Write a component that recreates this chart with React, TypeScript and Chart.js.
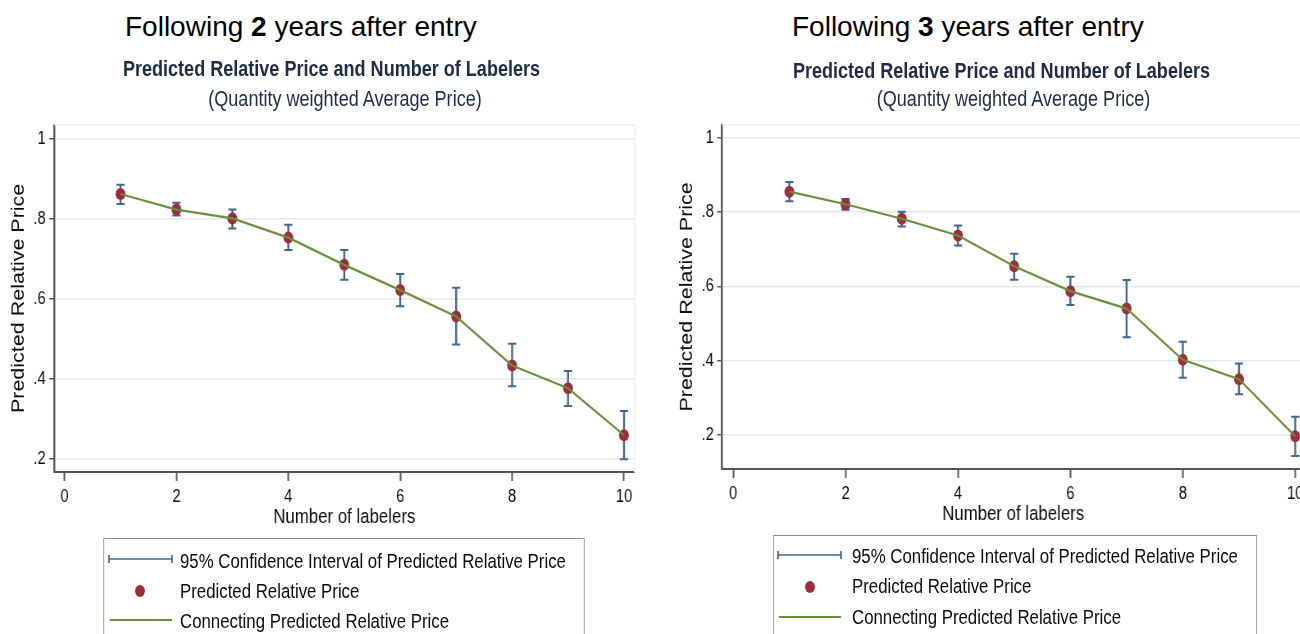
import React, { useEffect, useRef } from "react";
import { Chart, registerables } from "chart.js";

Chart.register(...registerables);

// ---------- data ----------
const labelers = [1, 2, 3, 4, 5, 6, 7, 8, 9, 10];
const xTicks = [0, 2, 4, 6, 8, 10];
const yTicks = [0.2, 0.4, 0.6, 0.8, 1];
const yTickLabels = [".2", ".4", ".6", ".8", "1"];

const pred2 = [0.862, 0.823, 0.801, 0.753, 0.685, 0.622, 0.556, 0.434, 0.377, 0.26];
const lo2 = [0.837, 0.808, 0.776, 0.722, 0.648, 0.582, 0.486, 0.382, 0.333, 0.2];
const hi2 = [0.885, 0.84, 0.823, 0.785, 0.722, 0.662, 0.628, 0.488, 0.42, 0.32];

const pred3 = [0.855, 0.821, 0.782, 0.737, 0.654, 0.587, 0.54, 0.402, 0.35, 0.196];
const lo3 = [0.829, 0.806, 0.761, 0.71, 0.618, 0.55, 0.463, 0.354, 0.309, 0.143];
const hi3 = [0.881, 0.835, 0.801, 0.764, 0.688, 0.626, 0.617, 0.451, 0.392, 0.249];

const legendLabels = [
  "95% Confidence Interval of Predicted Relative Price",
  "Predicted Relative Price",
  "Connecting Predicted Relative Price",
];
const chartTitle = "Predicted Relative Price and Number of Labelers";
const chartSubtitle = "(Quantity weighted Average Price)";
const xTitle = "Number of labelers";
const yTitle = "Predicted Relative Price";

// ---------- styles ----------
const C = {
  ci: "#42658e",
  dot: "#9b2c3b",
  line: "#6b8e3d",
  axis: "#555555",
  grid: "#e2eaee",
  title: "#1f2a45",
  text: "#0a0a0a",
};
const SANS = '"Liberation Sans", Arial, sans-serif';
// the graph part of the reference is squeezed horizontally
const F = 0.82;
const ix = (px: number) => px / F; // page x -> inner (unsqueezed) x

type Cfg = {
  pred: number[];
  lo: number[];
  hi: number[];
  xMin: number;
  xMax: number;
  yMin: number;
  yMax: number;
  width: number;
  height: number;
  yAxisWidth: number;
  xAxisHeight: number;
  padTop: number;
  padRight: number;
  yTitlePad: number;
  xTitlePad: number;
};

function buildChart(canvas: HTMLCanvasElement, cfg: Cfg) {
  const errorBars = {
    id: "errorBars",
    beforeDatasetsDraw(chart: any) {
      const { ctx, scales, chartArea } = chart;
      const x = scales.x;
      const y = scales.y;
      ctx.save();
      // faint plot-region outline (top & right)
      ctx.strokeStyle = "#e9eff1";
      ctx.lineWidth = 1.5;
      ctx.beginPath();
      ctx.moveTo(chartArea.left, chartArea.top);
      ctx.lineTo(chartArea.right, chartArea.top);
      ctx.lineTo(chartArea.right, chartArea.bottom);
      ctx.stroke();
      ctx.strokeStyle = C.ci;
      labelers.forEach((xv, i) => {
        const px = x.getPixelForValue(xv);
        const pl = y.getPixelForValue(cfg.lo[i]);
        const ph = y.getPixelForValue(cfg.hi[i]);
        ctx.lineWidth = 2.4;
        ctx.beginPath();
        ctx.moveTo(px, pl);
        ctx.lineTo(px, ph);
        ctx.stroke();
        ctx.lineWidth = 2;
        ctx.beginPath();
        ctx.moveTo(px - 5, pl);
        ctx.lineTo(px + 5, pl);
        ctx.moveTo(px - 5, ph);
        ctx.lineTo(px + 5, ph);
        ctx.stroke();
      });
      ctx.restore();
    },
  };

  const pts = labelers.map((x, i) => ({ x, y: cfg.pred[i] }));

  return new Chart(canvas, {
    type: "scatter",
    data: {
      datasets: [
        {
          label: legendLabels[2],
          data: pts,
          showLine: true,
          borderColor: C.line,
          borderWidth: 2.2,
          pointRadius: 0,
          order: 0,
        } as any,
        {
          label: legendLabels[1],
          data: pts,
          showLine: false,
          pointStyle: "circle",
          pointRadius: 6,
          borderWidth: 0,
          backgroundColor: C.dot,
          borderColor: C.dot,
          order: 1,
        } as any,
      ],
    },
    options: {
      responsive: false,
      animation: false,
      devicePixelRatio: 1,
      layout: { padding: { top: cfg.padTop, right: cfg.padRight, left: 0, bottom: 0 } },
      plugins: {
        legend: { display: false },
        tooltip: { enabled: false },
        title: { display: false },
      },
      scales: {
        x: {
          type: "linear",
          min: cfg.xMin,
          max: cfg.xMax,
          afterBuildTicks: (s: any) => {
            s.ticks = xTicks.map((v) => ({ value: v }));
          },
          afterFit: (s: any) => {
            s.height = cfg.xAxisHeight;
          },
          grid: {
            drawOnChartArea: false,
            drawTicks: true,
            tickLength: 9,
            tickColor: C.axis,
            tickWidth: 2,
          },
          border: { display: true, color: C.axis, width: 2 },
          ticks: {
            color: C.text,
            font: { family: SANS, size: 18 },
            padding: 5,
            maxRotation: 0,
            autoSkip: false,
            callback: (v: any) => String(v),
          },
          title: {
            display: true,
            text: xTitle,
            color: C.text,
            font: { family: SANS, size: 20.5 },
            padding: { top: 0, bottom: cfg.xTitlePad },
          },
        },
        y: {
          type: "linear",
          min: cfg.yMin,
          max: cfg.yMax,
          afterBuildTicks: (s: any) => {
            s.ticks = yTicks.map((v) => ({ value: v }));
          },
          afterFit: (s: any) => {
            s.width = cfg.yAxisWidth;
          },
          grid: {
            color: C.grid,
            lineWidth: 1.5,
            drawTicks: true,
            tickLength: 6,
            tickColor: C.axis,
            tickWidth: 1.5,
          },
          border: { display: true, color: C.axis, width: 2.4 },
          ticks: {
            color: C.text,
            font: { family: SANS, size: 18 },
            padding: 4,
            autoSkip: false,
            callback: (v: any) => {
              const i = yTicks.findIndex((t) => Math.abs(t - Number(v)) < 1e-6);
              return i >= 0 ? yTickLabels[i] : "";
            },
          },
          title: {
            display: true,
            text: yTitle,
            color: C.text,
            font: { family: SANS, size: 21.5 },
            padding: { top: cfg.yTitlePad, bottom: 0 },
          },
        },
      },
    },
    plugins: [errorBars as any],
  });
}

function ChartCanvas({ cfg, left, top }: { cfg: Cfg; left: number; top: number }) {
  const ref = useRef<HTMLCanvasElement | null>(null);
  useEffect(() => {
    if (!ref.current) return;
    const ch = buildChart(ref.current, cfg);
    return () => ch.destroy();
  }, []);
  return (
    <canvas
      ref={ref}
      width={cfg.width}
      height={cfg.height}
      style={{ position: "absolute", left, top, width: cfg.width, height: cfg.height }}
    />
  );
}

// all x-sizes below are in the inner (unsqueezed) space
const leftCfg: Cfg = {
  pred: pred2,
  lo: lo2,
  hi: hi2,
  xMin: -0.188,
  xMax: 10.19,
  yMin: 0.168,
  yMax: 1.0346,
  width: Math.round(ix(660)),
  height: 425,
  yAxisWidth: ix(54),
  xAxisHeight: 63,
  padTop: 11,
  padRight: ix(660) - ix(634.5),
  yTitlePad: 10.5,
  xTitlePad: 5.7,
};

const rightCfg: Cfg = {
  pred: pred3,
  lo: lo3,
  hi: hi3,
  xMin: -0.196,
  xMax: 10.16,
  yMin: 0.108,
  yMax: 1.035,
  width: Math.round(ix(660)),
  height: 425,
  yAxisWidth: ix(62),
  xAxisHeight: 66,
  padTop: 11,
  padRight: ix(660) - ix(644),
  yTitlePad: 20.5,
  xTitlePad: 8.7,
};

function Txt({
  children,
  left,
  top,
  size,
  weight,
  color,
  center,
}: {
  children: React.ReactNode;
  left: number;
  top: number;
  size: number;
  weight?: number;
  color?: string;
  center?: boolean;
}) {
  const style: React.CSSProperties = {
    position: "absolute",
    top,
    fontFamily: SANS,
    fontSize: size,
    lineHeight: `${size}px`,
    fontWeight: weight || 400,
    color: color || C.text,
    whiteSpace: "nowrap",
  };
  if (center) {
    style.left = left - 400;
    style.width = 800;
    style.textAlign = "center";
  } else {
    style.left = left;
  }
  return <div style={style}>{children}</div>;
}

function LegendSymbols({ x0, x1, xd, y1, y2, y3 }: { x0: number; x1: number; xd: number; y1: number; y2: number; y3: number }) {
  return (
    <g>
      <line x1={x0} y1={y1} x2={x1} y2={y1} stroke={C.ci} strokeWidth={1.6} />
      <line x1={x0} y1={y1 - 4} x2={x0} y2={y1 + 4} stroke={C.ci} strokeWidth={2} />
      <line x1={x1} y1={y1 - 4} x2={x1} y2={y1 + 4} stroke={C.ci} strokeWidth={2} />
      <circle cx={xd} cy={y2} r={6} fill={C.dot} />
      <line x1={x0 + 1} y1={y3} x2={x1} y2={y3} stroke={C.line} strokeWidth={2} />
    </g>
  );
}

export default function App() {
  const legendBox = (left: number, top: number, width: number) => (
    <div
      style={{
        position: "absolute",
        left: ix(left),
        top,
        width: ix(width),
        height: 120,
        border: "1.5px solid #8c8c8c",
        borderLeftWidth: 1.8,
        borderRightWidth: 1.8,
        boxSizing: "border-box",
      }}
    />
  );
  return (
    <div
      style={{
        position: "fixed",
        left: 0,
        top: 0,
        width: 1300,
        height: 634,
        overflow: "hidden",
        background: "#ffffff",
      }}
    >
      {/* slide headings (not squeezed) */}
      <Txt left={125} top={13} size={28} color="#000">
        Following <b>2</b> years after entry
      </Txt>
      <Txt left={792} top={13} size={28} color="#000">
        Following <b>3</b> years after entry
      </Txt>

      {/* squeezed graph area */}
      <div
        style={{
          position: "absolute",
          left: 0,
          top: 0,
          width: ix(1300),
          height: 634,
          transform: `scaleX(${F})`,
          transformOrigin: "0 0",
        }}
      >
        <Txt left={ix(331.5)} top={58} size={22} weight={700} color={C.title} center>
          {chartTitle}
        </Txt>
        <Txt left={ix(345)} top={88} size={22} color={C.title} center>
          {chartSubtitle}
        </Txt>
        <Txt left={ix(1001.5)} top={59.5} size={22} weight={700} color={C.title} center>
          {chartTitle}
        </Txt>
        <Txt left={ix(1013.5)} top={87.5} size={22} color={C.title} center>
          {chartSubtitle}
        </Txt>

        <ChartCanvas cfg={leftCfg} left={0} top={110} />
        <ChartCanvas cfg={rightCfg} left={ix(660)} top={110} />

        {legendBox(103, 538, 482)}
        {legendBox(773, 535, 484)}
        <svg
          width={ix(1300)}
          height={634}
          style={{ position: "absolute", left: 0, top: 0, pointerEvents: "none" }}
        >
          <LegendSymbols x0={ix(109)} x1={ix(172)} xd={ix(140)} y1={559} y2={591} y3={620} />
          <LegendSymbols x0={ix(778)} x1={ix(841)} xd={ix(810)} y1={555} y2={587} y3={617} />
        </svg>
        {legendLabels.map((t, i) => (
          <Txt key={"l" + i} left={ix(180)} top={[561, 591, 621][i] - 10} size={20.5}>
            {t}
          </Txt>
        ))}
        {legendLabels.map((t, i) => (
          <Txt key={"r" + i} left={ix(852)} top={[556, 586, 617][i] - 10} size={20.5}>
            {t}
          </Txt>
        ))}
      </div>
    </div>
  );
}
